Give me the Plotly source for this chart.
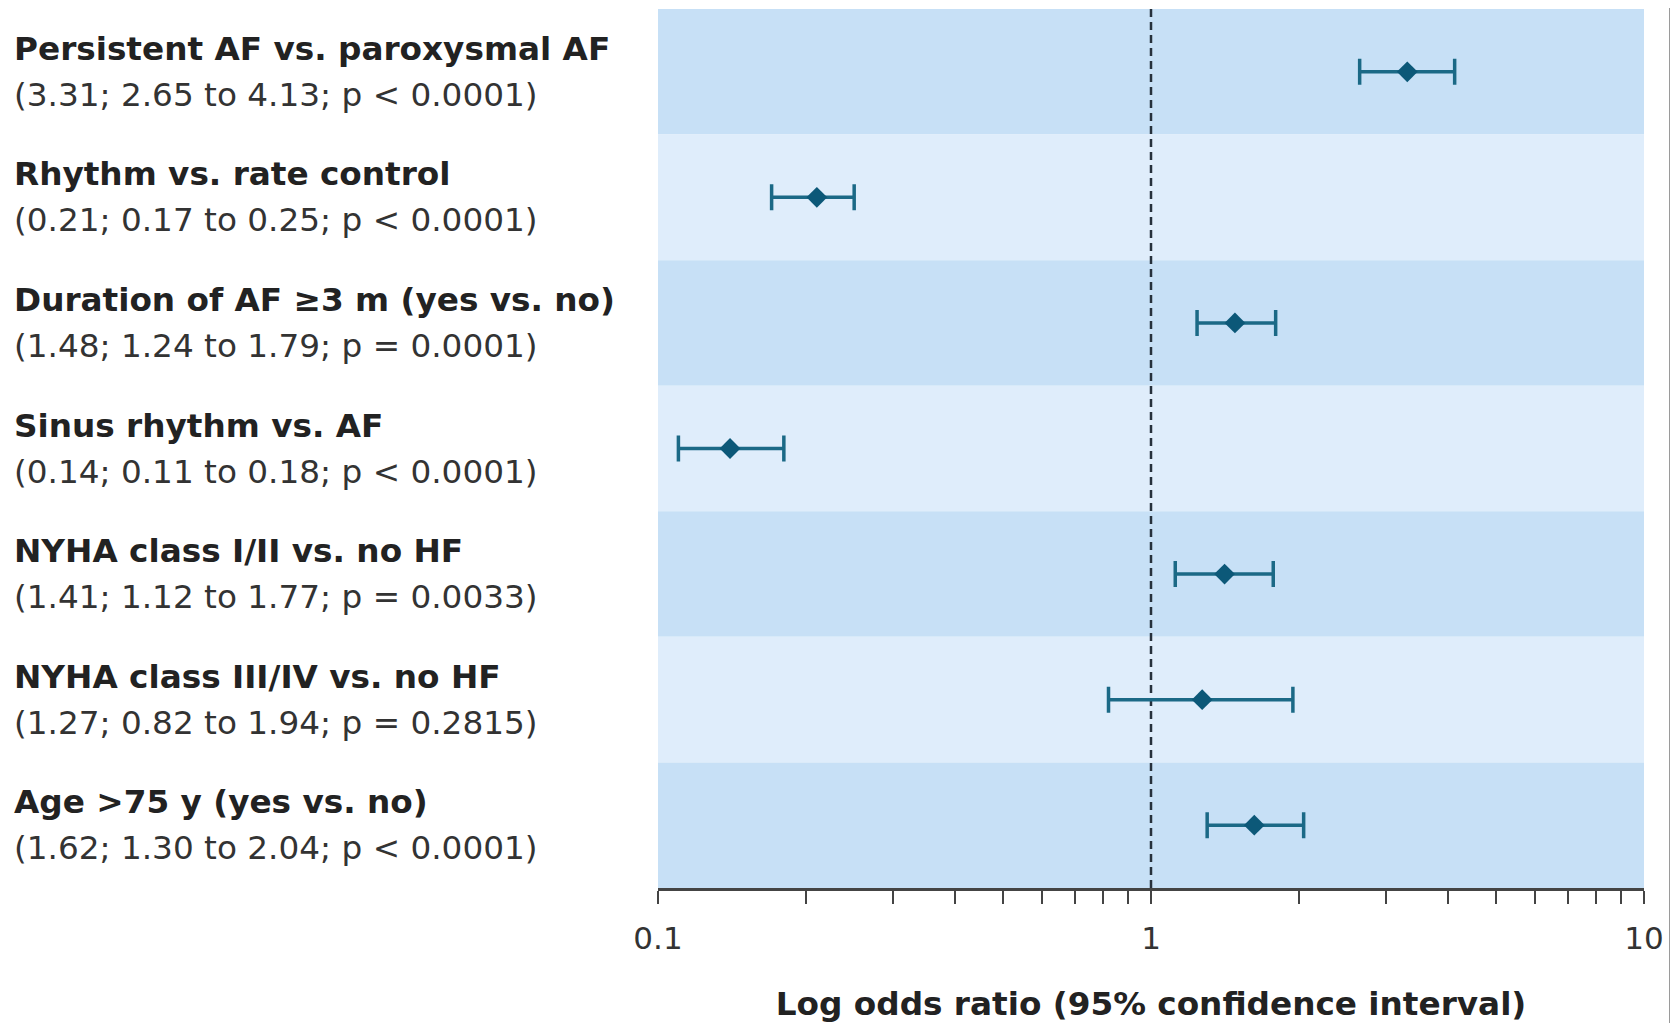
import plotly.graph_objects as go

# ---- data ----
comparisons = [
    "Persistent AF vs. paroxysmal AF",
    "Rhythm vs. rate control",
    "Duration of AF ≥3 m (yes vs. no)",
    "Sinus rhythm vs. AF",
    "NYHA class I/II vs. no HF",
    "NYHA class III/IV vs. no HF",
    "Age &gt;75 y (yes vs. no)",
]
odds_ratio = [3.31, 0.21, 1.48, 0.14, 1.41, 1.27, 1.62]
ci_lower = [2.65, 0.17, 1.24, 0.11, 1.12, 0.82, 1.30]
ci_upper = [4.13, 0.25, 1.79, 0.18, 1.77, 1.94, 2.04]
p_values = ["p &lt; 0.0001", "p &lt; 0.0001", "p = 0.0001", "p &lt; 0.0001",
            "p = 0.0033", "p = 0.2815", "p &lt; 0.0001"]
tick_values = [0.1, 0.2, 0.3, 0.4, 0.5, 0.6, 0.7, 0.8, 0.9,
               1, 2, 3, 4, 5, 6, 7, 8, 9, 10]
tick_labels = {0.1: "0.1", 1: "1", 10: "10"}
reference_value = 1
x_title = "Log odds ratio (95% confidence interval)"

rows = list(range(len(comparisons)))
err_plus = [u - v for u, v in zip(ci_upper, odds_ratio)]
err_minus = [v - l for v, l in zip(odds_ratio, ci_lower)]

# the page body adds an 8px offset, so the figure is sized to fill the rest
W, H = 1670, 1015
ML, MR, MT, MB = 650, 34, 1, 135
plot_w = W - ML - MR
plot_h = H - MT - MB

FONT = "DejaVu Sans"
DARK_BAND = "#c7e0f6"
LIGHT_BAND = "#dfedfb"
LABEL_SIZE = 32.7

fig = go.Figure()

# reference line at OR = 1
fig.add_trace(go.Scatter(
    x=[reference_value, reference_value], y=[-0.5, len(rows) - 0.5],
    mode="lines", line=dict(color="#27313c", width=2.5, dash="8px,5px"),
    hoverinfo="skip", showlegend=False,
))

# odds ratios with confidence intervals
fig.add_trace(go.Scatter(
    x=odds_ratio, y=rows, mode="markers",
    marker=dict(symbol="diamond", size=16, color="#0c5878"),
    error_x=dict(type="data", symmetric=False, array=err_plus,
                 arrayminus=err_minus, color="#1b6986", thickness=3.5, width=13),
    showlegend=False,
))

shapes = []
for i in rows:
    shapes.append(dict(
        type="rect", xref="paper", yref="y", x0=0, x1=1,
        y0=i - 0.5, y1=i + 0.5, fillcolor=DARK_BAND if i % 2 == 0 else LIGHT_BAND,
        line=dict(width=0), layer="below",
    ))

# grey page edge on the right
shapes.append(dict(
    type="rect", xref="paper", yref="paper",
    x0=(1661 - ML) / plot_w, x1=(W - ML) / plot_w,
    y0=-MB / plot_h, y1=1 + MT / plot_h,
    fillcolor="#9a9a9a", line=dict(width=0), layer="above",
))

annotations = []
label_x = (4 - ML) / plot_w
for i, name in enumerate(comparisons):
    annotations.append(dict(
        xref="paper", yref="y", x=label_x, y=i, xanchor="left", yanchor="middle",
        text=f"<b>{name}</b>", showarrow=False, yshift=23, align="left",
        font=dict(family=FONT, size=LABEL_SIZE, color="#222222"),
    ))
    annotations.append(dict(
        xref="paper", yref="y", x=label_x, y=i, xanchor="left", yanchor="middle",
        text=f"({odds_ratio[i]:.2f}; {ci_lower[i]:.2f} to {ci_upper[i]:.2f}; {p_values[i]})",
        showarrow=False, yshift=-23, align="left",
        font=dict(family=FONT, size=LABEL_SIZE, color="#333333"),
    ))

fig.update_layout(
    template="none",
    width=W, height=H,
    margin=dict(l=ML, r=MR, t=MT, b=MB, autoexpand=False),
    paper_bgcolor="white", plot_bgcolor="white",
    shapes=shapes, annotations=annotations,
    xaxis=dict(
        type="log", range=[-1, 1], automargin=False,
        tickmode="array", tickvals=tick_values,
        ticktext=[tick_labels.get(v, "") for v in tick_values],
        ticks="outside", ticklen=13, tickwidth=2, tickcolor="#444444",
        ticklabelstandoff=8,
        showline=True, linewidth=3, linecolor="#444444",
        showgrid=False, zeroline=False,
        tickfont=dict(family=FONT, size=31, color="#333333"),
        title=dict(text=f"<b>{x_title}</b>", standoff=45,
                   font=dict(family=FONT, size=LABEL_SIZE, color="#222222")),
    ),
    yaxis=dict(range=[len(rows) - 0.5, -0.5], visible=False, automargin=False),
)

fig.write_html("out.html")
